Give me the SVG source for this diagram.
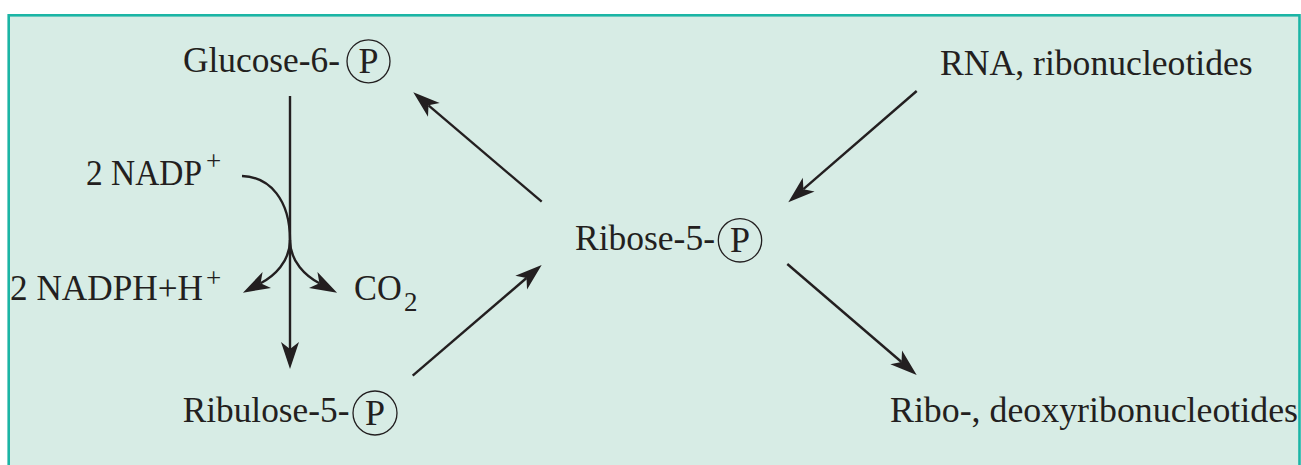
<svg xmlns="http://www.w3.org/2000/svg" width="1301" height="465" viewBox="0 0 1301 465">
<style>
.t{font-family:"Liberation Serif","Times New Roman",serif;font-size:36px;fill:#231F20}
.s{font-size:27px}
.ln{fill:none;stroke:#231F20;stroke-width:2.4}
.pc{fill:none;stroke:#231F20;stroke-width:1.3}
</style>
<defs>
<marker id="ah" markerUnits="userSpaceOnUse" markerWidth="40" markerHeight="30" viewBox="-10 -15 40 30" refX="0" refY="0" orient="auto" overflow="visible">
<path d="M20,0 L-7,-9 L0,0 L-7,9 Z" fill="#231F20"/>
</marker>
</defs>
<rect x="0" y="0" width="1301" height="465" fill="#FFFFFF"/>
<rect x="8.7" y="15.3" width="1290.8" height="470" fill="#D7ECE5" stroke="#1BB5A5" stroke-width="2.6"/>

<g id="glucose6p">
<text class="t" x="183" y="72" textLength="157" lengthAdjust="spacingAndGlyphs">Glucose-6-</text>
<circle class="pc" cx="368.5" cy="61.3" r="21.5"/>
<text class="t" x="368.5" y="73" text-anchor="middle">P</text>
</g>
<g id="ribulose5p">
<text class="t" x="182.7" y="422" textLength="166.7" lengthAdjust="spacingAndGlyphs">Ribulose-5-</text>
<circle class="pc" cx="375" cy="413" r="22"/>
<text class="t" x="375" y="424.5" text-anchor="middle">P</text>
</g>
<g id="ribose5p">
<text class="t" x="575" y="249.5" textLength="140" lengthAdjust="spacingAndGlyphs">Ribose-5-</text>
<circle class="pc" cx="740" cy="240.3" r="21.7"/>
<text class="t" x="740" y="252" text-anchor="middle">P</text>
</g>
<g id="rna">
<text class="t" x="940" y="75" textLength="312.7" lengthAdjust="spacingAndGlyphs">RNA, ribonucleotides</text>
</g>
<g id="nucleotides">
<text class="t" x="890" y="421.7" textLength="408" lengthAdjust="spacingAndGlyphs">Ribo-, deoxyribonucleotides</text>
</g>
<g id="nadp">
<text class="t" x="86" y="185" textLength="116" lengthAdjust="spacingAndGlyphs">2 NADP</text>
<text class="t s" x="206" y="170">+</text>
</g>
<g id="nadph">
<text class="t" x="10" y="300" textLength="193" lengthAdjust="spacingAndGlyphs">2 NADPH+H</text>
<text class="t s" x="206" y="287">+</text>
</g>
<g id="co2">
<text class="t" x="354" y="300" textLength="47.7" lengthAdjust="spacingAndGlyphs">CO</text>
<text class="t s" x="404" y="311">2</text>
</g>

<g id="connectors">
<path class="ln" d="M290,96 L290,349" marker-end="url(#ah)"/>
<path class="ln" d="M242,176 C270,177 290,200 290,240"/>
<path class="ln" d="M290,240 C290,262 273.8,276.3 260.6,283.3" marker-end="url(#ah)"/>
<path class="ln" d="M290,240 C290,262 306.2,276.3 319.4,283.3" marker-end="url(#ah)"/>
<path class="ln" d="M541.7,201.7 L428.5,105.3" marker-end="url(#ah)"/>
<path class="ln" d="M412.7,375.7 L526.5,278" marker-end="url(#ah)"/>
<path class="ln" d="M916.7,91 L803.4,189.2" marker-end="url(#ah)"/>
<path class="ln" d="M787.3,264 L901.5,362" marker-end="url(#ah)"/>
</g>
</svg>
